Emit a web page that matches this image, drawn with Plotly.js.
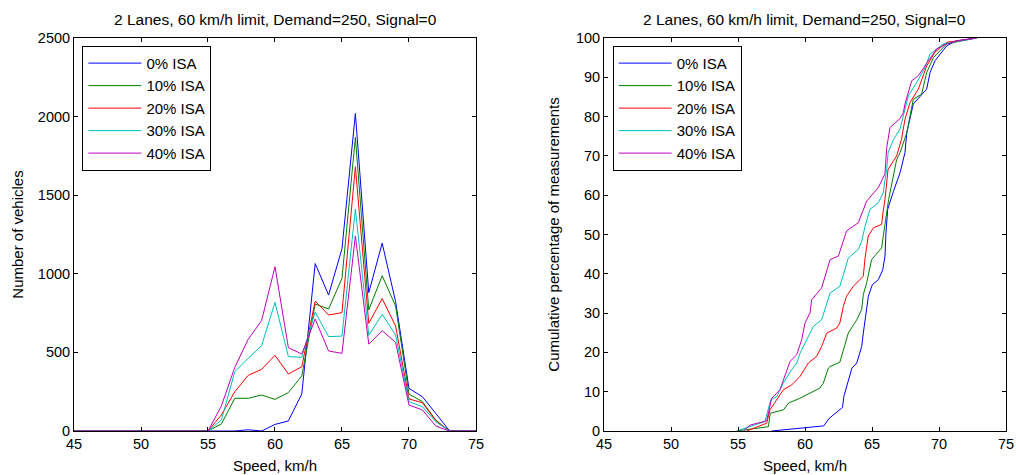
<!DOCTYPE html>
<html>
<head>
<meta charset="utf-8">
<script src="https://cdn.plot.ly/plotly-3.0.1.min.js"></script>
<style>html,body{margin:0;padding:0;background:#fff;}#chart{width:1016px;height:475px;}</style>
</head>
<body>
<div id="chart"></div>
<script>
// ---------- Data ----------
const chartTitle = "2 Lanes, 60 km/h limit, Demand=250, Signal=0";
const seriesNames = ["0% ISA", "10% ISA", "20% ISA", "30% ISA", "40% ISA"];
const seriesColors = ["#0000FF", "#008000", "#FF0000", "#00BFBF", "#BF00BF"];

// Histogram (left): speed bins 45..75 km/h
const speeds = [45,46,47,48,49,50,51,52,53,54,55,56,57,58,59,60,61,62,63,64,65,66,67,68,69,70,71,72,73,74,75];
const hist0  = [0,0,0,0,0,0,0,0,0,0,0,0,0,8,0,42,64,235,1065,865,1160,2020,880,1195,823,271,218,112,4,0,0];
const hist10 = [0,0,0,0,0,0,0,0,0,0,0,45,208,208,229,201,244,350,808,776,971,1868,770,988,795,235,187,70,0,0,0];
const hist20 = [0,0,0,0,0,0,0,0,0,0,0,102,250,354,392,481,363,409,827,738,753,1681,685,842,668,204,180,66,0,0,0];
const hist30 = [0,0,0,0,0,0,0,0,0,0,0,70,377,462,543,818,473,469,757,600,604,1412,609,742,611,187,155,59,0,0,0];
const hist40 = [0,0,0,0,0,0,0,0,0,0,0,159,405,583,702,1045,530,490,712,509,494,1240,553,638,564,165,134,32,0,0,0];

// Cumulative (right): speed (km/h) and cumulative percentage
const cdf0S = [57.5,61.4,61.8,62.8,62.9,63.1,63.5,63.86,64.23,64.35,64.55,64.73,65.02,65.47,65.8,65.97,66.04,66.17,66.6,67.09,67.46,67.6,68.08,69.08,69.33,69.7,70.57,71.3,72.8];
const cdf0P = [0,1.3,3.2,6.0,8.8,11.3,16,17.3,21.5,24.9,29.6,34.3,37.2,38.5,41,44.5,50.4,56.4,61,65.7,70.8,76,83.2,87,91.2,94.2,98,99.3,100];
const cdf1S = [54.9,57.27,57.4,58.4,58.76,59.6,61.1,61.37,61.74,61.87,62.6,62.86,63.23,63.86,64.23,64.35,64.6,64.97,65.72,65.84,66.1,66.24,66.84,67.09,67.6,68.08,68.7,69.08,69.58,70.57,72.8];
const cdf1P = [0,1.1,4.5,5.4,7.1,8.3,10.9,12.2,16,16.4,17.5,20.5,24.9,28.3,30.9,34.7,37.7,43.6,46.6,49.6,56.4,58.9,69.1,70.8,75.9,84.4,85.7,91.2,95,98.5,100];
const cdf2S = [55.65,57.14,57.39,57.59,58.38,59.0,59.63,60.25,60.87,61.24,61.62,62.37,62.6,62.86,63.1,63.6,64.35,64.48,64.72,65.1,65.72,65.84,65.97,66.2,66.84,67.2,67.46,67.84,68.46,69.08,69.7,70.57,72.8];
const cdf2P = [0,2,5.4,6.4,10.5,11.7,13.9,17.3,19,21.5,24.9,26.2,27.5,31.7,34.3,36.8,39.4,44,49.6,51.7,52.6,56,59,66.6,70,74.2,79.3,83.6,87,92.9,96.4,98.9,100];
const cdf3S = [54.9,57.01,57.44,57.9,58.38,59.0,59.38,59.63,60.13,60.62,61.24,61.62,61.87,62.6,63.23,63.98,64.23,64.48,64.85,65.47,65.84,65.97,66.1,66.2,66.6,67.09,67.39,67.71,68.34,68.96,69.33,70.32,72.8];
const cdf3P = [0,2.4,7.9,8.8,12.2,15.6,17.3,19.8,23.2,26.6,28.3,32.6,35.1,36.8,44,46.2,48.3,52.1,56.4,58.1,60.6,64,66.6,70.8,74.2,76.8,81,85.3,88.7,92.5,95.9,98.5,100];
const cdf4S = [55.4,55.9,57.14,57.51,58.13,58.5,58.88,59.38,59.75,60.0,60.37,60.5,61.24,61.87,62.49,63.1,63.98,64.6,65.47,65.97,66.1,66.34,67.09,67.34,67.46,67.96,68.46,69.2,69.83,70.57,71.45,72.8];
const cdf4P = [0,1.5,2.6,8.3,10.5,14.3,17.7,19.4,23.2,27.5,30,33.4,36.4,43.6,44.5,50.9,53,58.5,61.9,65.5,72.1,77.2,79.5,81,83.2,89.1,90.4,94.2,97.2,98.5,99.3,100];

const yTicksLeft = [0,500,1000,1500,2000,2500];
const yTicksRight = [0,10,20,30,40,50,60,70,80,90,100];
const xTicks = [45,50,55,60,65,70,75];

// ---------- Build ----------
const histData = [hist0, hist10, hist20, hist30, hist40];
const cdfS = [cdf0S, cdf1S, cdf2S, cdf3S, cdf4S];
const cdfP = [cdf0P, cdf1P, cdf2P, cdf3P, cdf4P];

const traces = [];
for (let i = 0; i < seriesNames.length; i++) {
  traces.push({
    x: speeds, y: histData[i], type: 'scatter', mode: 'lines',
    name: seriesNames[i], line: {color: seriesColors[i], width: 1},
    xaxis: 'x', yaxis: 'y', legend: 'legend', hoverinfo: 'skip'
  });
}
for (let i = 0; i < seriesNames.length; i++) {
  traces.push({
    x: cdfS[i], y: cdfP[i], type: 'scatter', mode: 'lines',
    name: seriesNames[i], line: {color: seriesColors[i], width: 1},
    xaxis: 'x2', yaxis: 'y2', legend: 'legend2', hoverinfo: 'skip'
  });
}

const FONT = "Liberation Sans, Arial, sans-serif";
const TXT = {family: FONT, size: 15, color: '#000'};
const LEG = {family: FONT, size: 15, color: '#000'};
const TITLE = {family: FONT, size: 15.5, color: '#000'};
const axisCommon = {
  showline: true, linecolor: '#000', linewidth: 1, mirror: 'ticks',
  ticks: 'inside', ticklen: 4, tickcolor: '#000', tickwidth: 1,
  showgrid: false, zeroline: false,
  tickfont: {family: FONT, size: 14.5, color: '#000'}
};
const legendCommon = {
  bgcolor: '#fff', bordercolor: '#000', borderwidth: 1,
  font: LEG,
  itemwidth: 53, tracegroupgap: 0, yanchor: 'top', xanchor: 'left',
  y: 0.98
};

const layout = {
  width: 1016, height: 475,
  margin: {l: 74, r: 10, t: 38, b: 44},
  paper_bgcolor: '#fff', plot_bgcolor: '#fff',
  font: TXT,
  showlegend: true,
  xaxis: Object.assign({}, axisCommon, {
    domain: [0, 0.4313], range: [45, 75], tickvals: xTicks, anchor: 'y',
    title: {text: 'Speed, km/h', font: TXT, standoff: 9}
  }),
  yaxis: Object.assign({}, axisCommon, {
    range: [0, 2500], tickvals: yTicksLeft, anchor: 'x',
    title: {text: 'Number of vehicles', font: TXT, standoff: 10}
  }),
  xaxis2: Object.assign({}, axisCommon, {
    domain: [0.5687, 1], range: [45, 75], tickvals: xTicks, anchor: 'y2',
    title: {text: 'Speed, km/h', font: TXT, standoff: 9}
  }),
  yaxis2: Object.assign({}, axisCommon, {
    range: [0, 100], tickvals: yTicksRight, anchor: 'x2',
    title: {text: 'Cumulative percentage of measurements', font: TXT, standoff: 12}
  }),
  legend: Object.assign({}, legendCommon, {x: 0.009}),
  legend2: Object.assign({}, legendCommon, {x: 0.578}),
  annotations: [
    {text: chartTitle, xref: 'paper', yref: 'paper', x: 0.2157, y: 1.046,
     xanchor: 'center', yanchor: 'middle', showarrow: false, font: TITLE},
    {text: chartTitle, xref: 'paper', yref: 'paper', x: 0.7843, y: 1.046,
     xanchor: 'center', yanchor: 'middle', showarrow: false, font: TITLE}
  ]
};

Plotly.newPlot('chart', traces, layout, {displayModeBar: false, staticPlot: true});
</script>
</body>
</html>
